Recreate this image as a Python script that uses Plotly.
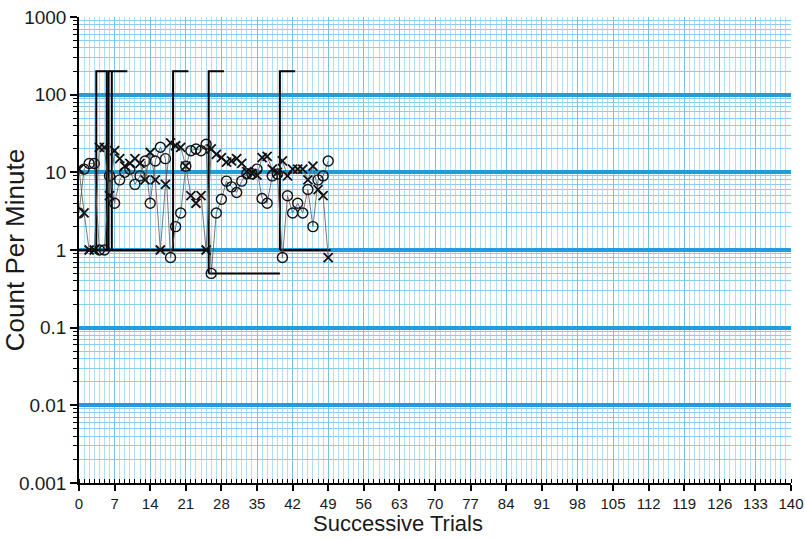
import plotly.graph_objects as go

# ---- data ----
trials = list(range(50))
circles = [3, 11, 13, 13, 1, 1, 9, 4, 8, 10, 11, 7, 9, 14, 4, 14, 21, 15, 0.8, 2,
           3, 12, 19, 20, 19, 23, 0.5, 3, 4.5, 7.7, 6.5, 5.5, 7.7, 9.6, 9.6, 11, 4.6, 4, 9, 9.5,
           0.8, 5, 3, 4, 3, 6, 2, 8, 9, 14]
crosses = [11, 3, 1, 1, 21, 21, 5, 19, 15, 12, 13, 15, 13, 8, 18, 8, 1, 7, 24, 22,
           21, 12, 5, 4, 5, 1, 20, 17, 15.5, 13.5, 14, 15, 13, 10.2, 9.7, 9.2, 15.5, 16, 11, 10,
           14, 9, 11, 11, 11, 8, 12, 6, 5, 0.8]

# phase-change brackets and record floors (x in trials, y in count/min)
phase_x = [0, 25.5, None,
           3.4, 3.4, 5.45, 5.45, None,
           5.8, 5.8, 9.5, None,
           6.45, 6.45, None,
           18.5, 18.5, 21.5, None,
           25.5, 25.5, 28.5, None,
           25.5, 39.5, None,
           39.5, 39.5, 42.5, None,
           39.5, 49.5]
phase_y = [1, 1, None,
           1, 200, 200, 1, None,
           1, 200, 200, None,
           1, 200, None,
           1, 200, 200, None,
           0.5, 200, 200, None,
           0.5, 0.5, None,
           1, 200, 200, None,
           1, 1]

x_ticks = list(range(0, 141, 7))
y_ticks = [0.001, 0.01, 0.1, 1, 10, 100, 1000]
y_labels = ["0.001", "0.01", "0.1", "1", "10", "100", "1000"]
x_title = "Successive Trials"
y_title = "Count Per Minute"

minor_y = [m * 10 ** k for k in range(-3, 3) for m in range(2, 10)]

fig = go.Figure()
fig.add_trace(go.Scatter(x=phase_x, y=phase_y, mode="lines",
                         line=dict(color="black", width=2), hoverinfo="skip",
                         showlegend=False))
fig.add_trace(go.Scatter(x=trials, y=circles, mode="lines+markers",
                         line=dict(color="#555555", width=0.8),
                         marker=dict(symbol="circle-open", size=10, color="#111111",
                                     line=dict(width=1.4, color="#111111")),
                         showlegend=False))
fig.add_trace(go.Scatter(x=trials, y=crosses, mode="lines+markers",
                         line=dict(color="#555555", width=0.8),
                         marker=dict(symbol="x-thin-open", size=9, color="#111111",
                                     line=dict(width=1.8, color="#111111")),
                         showlegend=False))

font = "Liberation Sans, Arial, sans-serif"
fig.update_layout(
    width=805, height=539,
    margin=dict(l=79, r=14, t=17, b=56),
    paper_bgcolor="white", plot_bgcolor="white",
    font=dict(family=font, color="#1a1a1a"),
)
fig.add_annotation(text=x_title, xref="paper", yref="paper", x=0.448, y=-0.086,
                   xanchor="center", yanchor="middle", showarrow=False,
                   font=dict(size=22, color="#1a1a1a"))
fig.update_xaxes(
    range=[0, 140], tickmode="array", tickvals=x_ticks, automargin=False,
    ticks="outside", ticklen=6, tickwidth=1.5, tickcolor="black",
    showline=True, linecolor="black", linewidth=1.5,
    showgrid=True, gridcolor="#79c3ea", gridwidth=1,
    minor=dict(dtick=1, tick0=0, ticks="inside", ticklen=4, tickcolor="black",
               tickwidth=1, showgrid=True, gridcolor="#b3def5", gridwidth=1),
    tickfont=dict(size=15), zeroline=False,
)
fig.update_yaxes(
    type="log", range=[-3, 3], tickmode="array", tickvals=y_ticks, ticktext=y_labels,
    automargin=False,
    ticks="outside", ticklen=7, tickwidth=1.5, tickcolor="black",
    showline=True, linecolor="black", linewidth=1.5,
    showgrid=True, gridcolor="#1f9ed9", gridwidth=3.5,
    minor=dict(tickmode="array", tickvals=minor_y, ticks="outside", ticklen=4,
               tickcolor="black", tickwidth=1, showgrid=True,
               gridcolor="#8fcdee", gridwidth=1),
    tickfont=dict(size=19), zeroline=False,
    title=dict(text=y_title, font=dict(size=26), standoff=4),
)

fig.write_html("out.html", config={"displayModeBar": False},
               post_script="document.body.style.margin='0';document.body.style.padding='0';")
